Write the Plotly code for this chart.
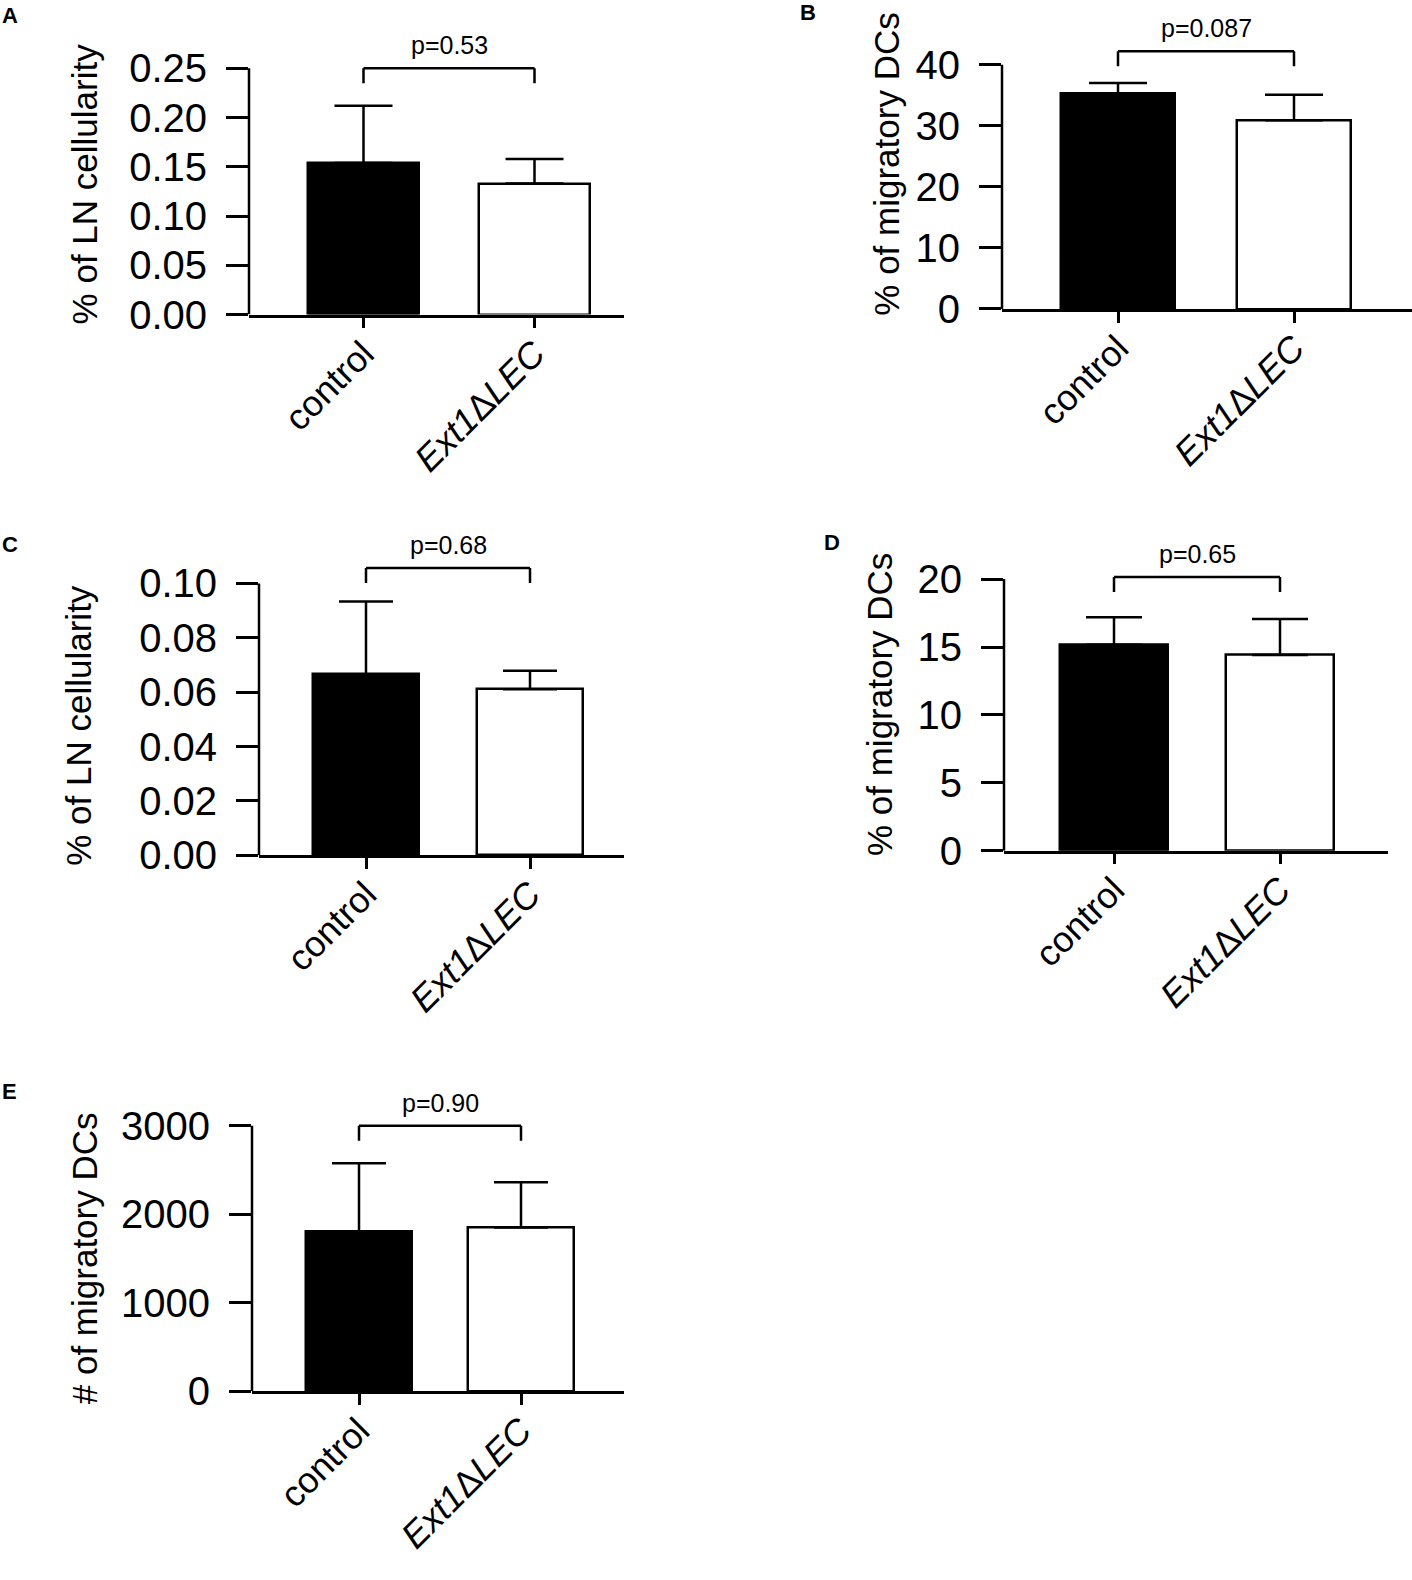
import plotly.graph_objects as go

W, H = 1412, 1580
FONT = "Liberation Sans, Arial, sans-serif"

# data (mean and SD, upper error bar only)
groups = ["control", "<i>Ext1</i>Δ<i>LEC</i>"]

means_A = [0.154, 0.133]
sd_A = [0.058, 0.025]
means_B = [35.3, 30.9]
sd_B = [1.7, 4.2]
means_C = [0.0666, 0.0611]
sd_C = [0.0268, 0.0068]
means_D = [15.16, 14.41]
sd_D = [2.03, 2.66]
means_E = [1804, 1852]
sd_E = [772, 509]

p_values = ["p=0.53", "p=0.087", "p=0.68", "p=0.65", "p=0.90"]
bracket_y = [0.25, 42.2, 0.1057, 20.15, 3000]

ticks_A = [0, 0.05, 0.10, 0.15, 0.20, 0.25]
ticks_B = [0, 10, 20, 30, 40]
ticks_C = [0, 0.02, 0.04, 0.06, 0.08, 0.10]
ticks_D = [0, 5, 10, 15, 20]
ticks_E = [0, 1000, 2000, 3000]
labels_A = ["0.00", "0.05", "0.10", "0.15", "0.20", "0.25"]
labels_B = ["0", "10", "20", "30", "40"]
labels_C = ["0.00", "0.02", "0.04", "0.06", "0.08", "0.10"]
labels_D = ["0", "5", "10", "15", "20"]
labels_E = ["0", "1000", "2000", "3000"]

y_titles = ["% of LN cellularity", "% of migratory DCs", "% of LN cellularity",
            "% of migratory DCs", "# of migratory DCs"]
letters = ["A", "B", "C", "D", "E"]

panels = [
    (means_A, sd_A, ticks_A, labels_A),
    (means_B, sd_B, ticks_B, labels_B),
    (means_C, sd_C, ticks_C, labels_C),
    (means_D, sd_D, ticks_D, labels_D),
    (means_E, sd_E, ticks_E, labels_E),
]

# page layout of each panel, in pixels
axis_left = [249, 1002, 259, 1004, 252]
axis_right = [624, 1412, 624, 1388, 624]
zero_px = [319, 313.3, 867.3, 862.7, 1411]
top_px = [69.3, 65.7, 591.7, 587.3, 1141.7]
cat_px = [(363.5, 534.5), (1118, 1294), (366, 530), (1114, 1280), (359, 521)]
title_pos = [(84, 187), (887, 166), (79, 736), (879, 715), (84, 1276)]
letter_pos = [(10, 16), (808, 13), (10, 552), (832, 550), (9, 1107)]
cap_half = [29, 29, 27, 28, 27]

LW = 2.5
fig = go.Figure()
shapes, annotations = [], []

for i, (means, sd, tvals, tlabels) in enumerate(panels):
    n = "" if i == 0 else str(i + 1)
    xa, ya = "x" + n, "y" + n
    top_val = tvals[-1]
    dom_top = top_px[i] - 45
    ymax = top_val * (zero_px[i] - dom_top) / (zero_px[i] - top_px[i])
    c0, c1 = cat_px[i]
    step = c1 - c0
    xr = [(axis_left[i] - c0) / step, (axis_right[i] - c0) / step]

    fig.add_trace(go.Bar(
        x=[0, 1], y=means, xaxis=xa, yaxis=ya, width=0.65,
        marker=dict(color=["black", "white"], line=dict(color="black", width=LW)),
        error_y=dict(type="data", symmetric=False, array=sd, arrayminus=[0, 0],
                     color="black", thickness=LW, width=cap_half[i]),
        showlegend=False, hoverinfo="skip"))

    fig.layout["xaxis" + n] = dict(
        domain=[axis_left[i] / W, axis_right[i] / W], anchor=ya, range=xr,
        tickvals=[0, 1], ticktext=groups, tickangle=-45, ticklabelstandoff=-10,
        ticks="outside", ticklen=11, tickwidth=LW, tickcolor="black",
        showline=True, linecolor="black", linewidth=LW,
        showgrid=False, zeroline=False,
        tickfont=dict(family=FONT, size=36, color="black"))
    fig.layout["yaxis" + n] = dict(
        domain=[1 - zero_px[i] / H, 1 - dom_top / H], anchor=xa, range=[0, ymax],
        tickvals=tvals, ticktext=tlabels, ticklabelstandoff=11,
        ticks="outside", ticklen=22, tickwidth=LW, tickcolor="black",
        showline=False, showgrid=False, zeroline=False,
        tickfont=dict(family=FONT, size=40, color="black"))

    # y axis spine stops at the top tick
    shapes.append(dict(type="line", xref=xa + " domain", yref=ya, x0=0, x1=0,
                       y0=0, y1=top_val, line=dict(color="black", width=LW)))
    # significance bracket
    b = bracket_y[i]
    shapes.append(dict(type="line", xref=xa, yref=ya, x0=0, x1=1, y0=b, y1=b,
                       line=dict(color="black", width=LW)))
    for xx in (0, 1):
        shapes.append(dict(type="line", xref=xa, yref=ya, x0=xx, x1=xx,
                           ysizemode="pixel", yanchor=b, y0=0, y1=-15,
                           line=dict(color="black", width=LW)))
    annotations.append(dict(xref=xa, yref=ya, x=0.5, y=b, text=p_values[i],
                            showarrow=False, yanchor="middle", yshift=23,
                            font=dict(family=FONT, size=25, color="black")))
    tx, ty = title_pos[i]
    annotations.append(dict(xref="paper", yref="paper", x=tx / W, y=1 - ty / H,
                            text=y_titles[i], textangle=-90, showarrow=False,
                            xanchor="center", yanchor="middle",
                            font=dict(family=FONT, size=35, color="black")))
    lx, ly = letter_pos[i]
    annotations.append(dict(xref="paper", yref="paper", x=lx / W, y=1 - ly / H,
                            text="<b>" + letters[i] + "</b>", showarrow=False,
                            xanchor="center", yanchor="middle",
                            font=dict(family=FONT, size=22, color="black")))

fig.update_layout(width=W, height=H, margin=dict(l=0, r=0, t=0, b=0),
                  paper_bgcolor="white", plot_bgcolor="white",
                  shapes=shapes, annotations=annotations, bargap=0)

# drop the default page margin so the figure sits at the window origin
fig.write_html("out.html", config={"displayModeBar": False},
               post_script="document.body.style.margin = '0px';")
